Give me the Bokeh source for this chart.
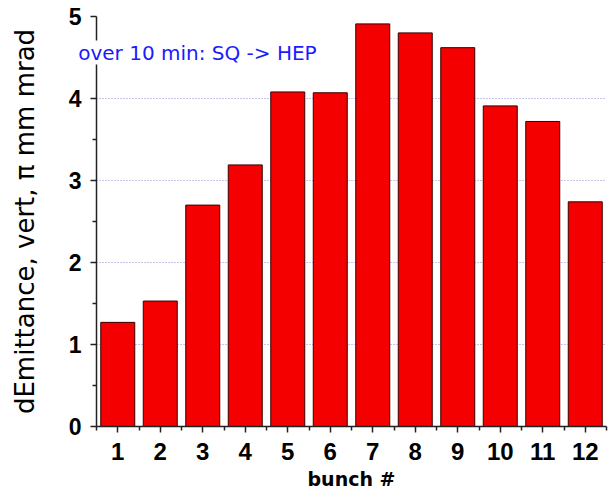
from bokeh.plotting import figure
from bokeh.models import ColumnDataSource, Label, FixedTicker, Range1d
from bokeh.embed import file_html
from bokeh.resources import INLINE

bunches = [1, 2, 3, 4, 5, 6, 7, 8, 9, 10, 11, 12]
demittance = [1.27, 1.53, 2.70, 3.19, 4.08, 4.07, 4.91, 4.80, 4.62, 3.91, 3.72, 2.74]
x_ticks = bunches
y_ticks = [0, 1, 2, 3, 4, 5]

src = ColumnDataSource(dict(x=bunches, top=demittance))

p = figure(width=610, height=500, output_backend="svg", toolbar_location=None,
           x_range=Range1d(0.5, 12.5), y_range=Range1d(0, 5),
           min_border_left=96, min_border_right=4, min_border_top=24, min_border_bottom=66,
           styles={"margin-top": "-8px"})
p.outline_line_color = None
p.background_fill_color = "white"

p.vbar(x="x", top="top", width=0.8, bottom=0, source=src,
       fill_color="#f40000", line_color="#3a0000", line_width=1)

# grid
p.xgrid.grid_line_color = None
p.ygrid.ticker = FixedTicker(ticks=y_ticks)
p.ygrid.grid_line_color = "#8c8cd8"
p.ygrid.grid_line_dash = "1 2"
p.ygrid.grid_line_width = 1

# axes
p.xaxis.ticker = FixedTicker(ticks=x_ticks, minor_ticks=[b + 0.5 for b in [0] + bunches])
p.yaxis.ticker = FixedTicker(ticks=y_ticks, minor_ticks=[v + 0.5 for v in y_ticks[:-1]])
for ax in (p.xaxis[0], p.yaxis[0]):
    ax.axis_line_color = "#222222"
    ax.axis_line_width = 1.5
    ax.major_tick_line_color = "#222222"
    ax.minor_tick_line_color = "#222222"
    ax.major_tick_line_width = 1.5
    ax.minor_tick_line_width = 1.5
    ax.major_tick_out = 6
    ax.major_tick_in = 0
    ax.minor_tick_out = 4
    ax.minor_tick_in = 0
    ax.major_label_text_font = "Liberation Sans"
    ax.major_label_text_font_style = "bold"
    ax.major_label_text_color = "black"
p.xaxis.major_label_text_font_size = "24px"
p.yaxis.major_label_text_font_size = "23px"
p.yaxis.major_label_standoff = 9

p.yaxis.axis_label = "dEmittance, vert, \u03c0 mm mrad"
p.yaxis.axis_label_text_font = "DejaVu Sans"
p.yaxis.axis_label_text_font_style = "normal"
p.yaxis.axis_label_text_font_size = "26px"
p.yaxis.axis_label_text_color = "black"
p.yaxis.axis_label_standoff = 26

p.xaxis.axis_label = "bunch #"
p.xaxis.axis_label_text_font = "DejaVu Sans"
p.xaxis.axis_label_text_font_style = "bold"
p.xaxis.axis_label_text_font_size = "19px"
p.xaxis.axis_label_text_color = "black"
p.xaxis.axis_label_standoff = 5
p.xaxis.major_label_standoff = 10

note = Label(x=0.07, y=4.56, text="over 10 min: SQ -> HEP", text_color="#1a1aff",
             text_font="DejaVu Sans", text_font_size="20px", text_baseline="middle",
             text_line_height=0.3, background_fill_color="white")
p.add_layout(note, "above")

open("out.html", "w").write(file_html(p, INLINE))
